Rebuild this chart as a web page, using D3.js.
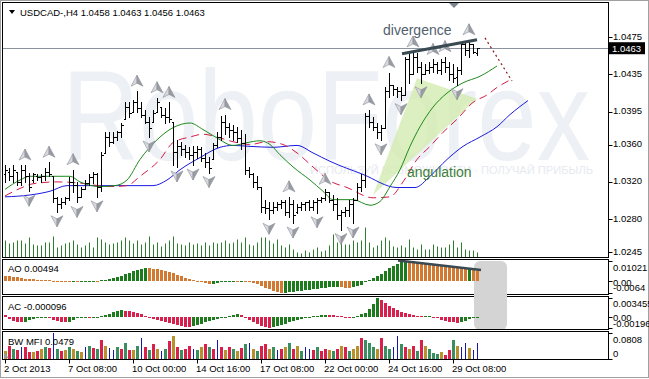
<!DOCTYPE html>
<html>
<head>
<meta charset="utf-8">
<script src="https://cdn.jsdelivr.net/npm/d3@7"></script>
<style>
  body { margin: 0; background: #fff; }
  svg { display: block; }
  text { font-family: "Liberation Sans", Arial, sans-serif; }
</style>
</head>
<body>
<div id="chart"></div>
<script>
// ---- data (USDCAD H4, 2 Oct - 30 Oct 2013) ----
const opens = [
  1.0328,1.0331,1.0326,1.0331,1.0320,1.0333,1.0326,1.0322,1.0326,1.0325,
  1.0326,1.0331,1.0326,1.0303,1.0296,1.0299,1.0303,1.0320,1.0317,1.0304,
  1.0312,1.0319,1.0325,1.0328,1.0315,1.0351,1.0368,1.0363,1.0368,1.0373,
  1.0387,1.0400,1.0395,1.0406,1.0399,1.0392,1.0384,1.0384,1.0395,1.0400,
  1.0392,1.0389,1.0384,1.0352,1.0358,1.0355,1.0352,1.0349,1.0352,1.0355,
  1.0346,1.0341,1.0344,1.0360,1.0368,1.0384,1.0379,1.0376,1.0373,1.0367,
  1.0362,1.0333,1.0328,1.0320,1.0314,1.0293,1.0292,1.0290,1.0293,1.0296,
  1.0298,1.0288,1.0296,1.0288,1.0293,1.0296,1.0298,1.0293,1.0298,1.0301,
  1.0303,1.0309,1.0301,1.0296,1.0285,1.0288,1.0290,1.0296,1.0301,1.0315,
  1.0322,1.0390,1.0384,1.0379,1.0373,1.0378,1.0417,1.0424,1.0419,1.0417,
  1.0413,1.0451,1.0435,1.0454,1.0443,1.0435,1.0440,1.0443,1.0446,1.0440,
  1.0448,1.0443,1.0435,1.0432,1.0440,1.0467,1.0461,1.0467,1.0458];
const highs = [
  1.0338,1.0335,1.0338,1.0331,1.0338,1.0338,1.0330,1.0330,1.0328,1.0328,
  1.0335,1.0341,1.0326,1.0304,1.0303,1.0304,1.0325,1.0333,1.0320,1.0315,
  1.0322,1.0328,1.0331,1.0330,1.0352,1.0373,1.0373,1.0373,1.0374,1.0383,
  1.0405,1.0405,1.0408,1.0417,1.0405,1.0397,1.0389,1.0397,1.0410,1.0400,
  1.0399,1.0405,1.0384,1.0365,1.0363,1.0360,1.0357,1.0358,1.0358,1.0357,
  1.0351,1.0347,1.0362,1.0373,1.0390,1.0392,1.0383,1.0381,1.0379,1.0376,
  1.0371,1.0336,1.0330,1.0326,1.0314,1.0301,1.0299,1.0298,1.0298,1.0301,
  1.0301,1.0304,1.0301,1.0296,1.0298,1.0299,1.0301,1.0301,1.0303,1.0304,
  1.0312,1.0309,1.0306,1.0303,1.0290,1.0293,1.0301,1.0303,1.0319,1.0328,
  1.0394,1.0397,1.0389,1.0383,1.0381,1.0422,1.0437,1.0424,1.0422,1.0421,
  1.0454,1.0458,1.0459,1.0458,1.0448,1.0446,1.0448,1.0451,1.0448,1.0451,
  1.0454,1.0448,1.0446,1.0443,1.0469,1.0470,1.0472,1.0467,1.0463];
const lows = [
  1.0320,1.0322,1.0320,1.0317,1.0317,1.0320,1.0310,1.0320,1.0322,1.0320,
  1.0322,1.0326,1.0298,1.0288,1.0292,1.0296,1.0301,1.0309,1.0298,1.0304,
  1.0312,1.0317,1.0319,1.0304,1.0310,1.0351,1.0358,1.0362,1.0365,1.0368,
  1.0387,1.0389,1.0395,1.0395,1.0389,1.0383,1.0368,1.0384,1.0395,1.0389,
  1.0383,1.0384,1.0338,1.0336,1.0349,1.0347,1.0344,1.0338,1.0346,1.0342,
  1.0336,1.0330,1.0344,1.0357,1.0365,1.0371,1.0368,1.0365,1.0363,1.0355,
  1.0328,1.0325,1.0315,1.0312,1.0288,1.0287,1.0280,1.0287,1.0290,1.0292,
  1.0285,1.0282,1.0276,1.0287,1.0290,1.0290,1.0290,1.0290,1.0287,1.0298,
  1.0301,1.0298,1.0290,1.0280,1.0269,1.0283,1.0283,1.0276,1.0301,1.0310,
  1.0315,1.0379,1.0376,1.0367,1.0365,1.0378,1.0411,1.0413,1.0411,1.0408,
  1.0413,1.0426,1.0435,1.0438,1.0426,1.0435,1.0437,1.0438,1.0437,1.0435,
  1.0438,1.0429,1.0427,1.0424,1.0435,1.0456,1.0454,1.0458,1.0456];
const closes = [
  1.0333,1.0326,1.0333,1.0320,1.0333,1.0326,1.0315,1.0328,1.0325,1.0326,
  1.0331,1.0328,1.0303,1.0296,1.0299,1.0303,1.0320,1.0317,1.0304,1.0312,
  1.0319,1.0325,1.0328,1.0315,1.0349,1.0368,1.0363,1.0368,1.0373,1.0381,
  1.0400,1.0394,1.0406,1.0399,1.0392,1.0384,1.0378,1.0394,1.0405,1.0392,
  1.0389,1.0387,1.0352,1.0358,1.0355,1.0352,1.0349,1.0352,1.0355,1.0346,
  1.0341,1.0335,1.0360,1.0368,1.0384,1.0379,1.0376,1.0373,1.0367,1.0362,
  1.0333,1.0328,1.0320,1.0314,1.0293,1.0292,1.0290,1.0293,1.0296,1.0298,
  1.0288,1.0296,1.0285,1.0293,1.0296,1.0298,1.0293,1.0298,1.0301,1.0303,
  1.0309,1.0301,1.0296,1.0285,1.0288,1.0290,1.0296,1.0301,1.0315,1.0322,
  1.0390,1.0384,1.0379,1.0373,1.0378,1.0417,1.0424,1.0419,1.0417,1.0413,
  1.0451,1.0435,1.0454,1.0443,1.0435,1.0440,1.0443,1.0446,1.0440,1.0448,
  1.0443,1.0435,1.0431,1.0440,1.0467,1.0461,1.0467,1.0459,1.0463];

const volumes = [
  1700,1400,1500,1700,1700,1400,2000,1300,1200,1200,
  1500,1500,2100,1000,1200,1400,1500,1700,1300,1000,
  1200,1500,1000,2000,1800,1500,1300,1400,1500,1700,
  2000,1700,1400,1700,1300,1500,2100,1300,1500,1100,
  1400,1700,2100,1400,1300,1200,1500,1300,1400,1200,
  1500,1200,1500,1400,1500,1700,1400,1500,1800,1500,
  2000,1300,1200,1500,2000,2000,1700,1400,1800,1200,
  1000,1300,800,500,400,700,500,800,1000,600,
  700,1200,2300,1500,1700,1300,1300,1700,1500,1700,
  3000,1500,1000,1200,1700,2000,1700,1100,1000,1200,
  1000,1800,1000,800,1300,800,800,1300,1100,1000,
  1000,1300,1700,1000,1500,800,700,700,500];

// Alligator lines: [bar index, price] (they run past the last bar)
const jawPts = [[0,1.0304],[6.25,1.0306],[11.25,1.0310],[15.5,1.0316],[20.5,1.0316],[26.25,1.0316],[37,1.0316],
  [40.5,1.0322],[43.75,1.0333],[48.75,1.0346],[53.75,1.0357],[57,1.0359],[61.25,1.0358],[67,1.0357],[73,1.0359],
  [77,1.0351],[81.25,1.0342],[89.5,1.0328],[98,1.0314],[102.5,1.0314],[106.25,1.0326],[110.5,1.0344],
  [114.5,1.0358],[118.75,1.0368],[123,1.0379],[126.25,1.0392],[130.75,1.0407]];
const teethPts = [[0,1.0305],[3.75,1.0313],[7,1.0318],[13,1.0320],[18,1.0319],[26.25,1.0315],[30.5,1.0316],
  [33.75,1.0326],[38.75,1.0344],[42,1.0362],[46.25,1.0368],[49.5,1.0371],[53,1.0368],[57,1.0363],[61.25,1.0360],
  [65.5,1.0363],[69.5,1.0360],[73,1.0351],[77,1.0336],[81.25,1.0321],[85.5,1.0314],[92,1.0303],[96.25,1.0304],
  [99.5,1.0320],[103,1.0344],[106.25,1.0358],[109.5,1.0373],[113,1.0387],[117,1.0405],[120.5,1.0413],
  [123,1.0421],[126.25,1.0429]];
const lipsPts = [[0,1.0312],[3.75,1.0322],[6.25,1.0326],[11.25,1.0326],[16.25,1.0326],[18.75,1.0320],[23.75,1.0315],
  [27.5,1.0316],[30.5,1.0322],[33.75,1.0344],[38,1.0365],[42,1.0378],[46.25,1.0383],[49.5,1.0376],[53,1.0367],
  [57,1.0359],[60.5,1.0362],[63.75,1.0364],[66.25,1.0360],[68.75,1.0349],[72,1.0336],[76.25,1.0322],[79.5,1.0310],
  [82,1.0301],[87,1.0301],[91.25,1.0295],[93.75,1.0299],[96.25,1.0315],[98.75,1.0333],[101.25,1.0358],
  [103.75,1.0379],[107,1.0400],[110.5,1.0415],[114.5,1.0426],[118.75,1.0433],[123,1.0444]];

const upFractals = [5,11,17,33,38,41,55,71,80,91,96,102,107,110,116];
const downFractals = [6,13,18,23,36,43,47,51,66,72,78,84,87,94,99,104,113];

const aoValues = [
  0.00260,0.00234,0.00208,0.00166,0.00135,0.00104,0.00083,0.00062,0.00052,0.00042,
  0.00031,0.00021,0.00003,-0.00026,-0.00042,-0.00052,-0.00062,-0.00052,-0.00062,-0.00052,
  -0.00042,-0.00026,-0.00016,-0.00026,0.00010,0.00042,0.00093,0.00145,0.00197,0.00260,
  0.00337,0.00415,0.00493,0.00571,0.00623,0.00649,0.00638,0.00623,0.00597,0.00545,
  0.00493,0.00441,0.00389,0.00311,0.00234,0.00156,0.00078,0.00026,-0.00026,-0.00078,
  -0.00130,-0.00182,-0.00166,-0.00130,-0.00093,-0.00062,-0.00042,-0.00026,-0.00031,-0.00026,
  -0.00042,-0.00078,-0.00130,-0.00197,-0.00285,-0.00363,-0.00441,-0.00519,-0.00597,-0.00638,
  -0.00623,-0.00597,-0.00571,-0.00545,-0.00519,-0.00493,-0.00467,-0.00441,-0.00415,-0.00389,
  -0.00363,-0.00348,-0.00337,-0.00322,-0.00337,-0.00363,-0.00374,-0.00337,-0.00285,-0.00208,
  -0.00078,0.00052,0.00156,0.00260,0.00363,0.00519,0.00649,0.00753,0.00856,0.00960,
  0.01021,0.01012,0.00996,0.00976,0.00950,0.00924,0.00898,0.00872,0.00846,0.00820,
  0.00794,0.00768,0.00742,0.00701,0.00664,0.00623,0.00633,0.00545,0.00494];

const acValues = [
  0.00035,-0.00035,-0.00070,-0.00087,-0.00096,-0.00087,-0.00052,-0.00035,-0.00026,-0.00017,
  -0.00015,-0.00026,-0.00052,-0.00070,-0.00087,-0.00096,-0.00087,-0.00052,-0.00026,-0.00017,
  -0.00009,-0.00014,-0.00009,-0.00005,0.00009,0.00035,0.00061,0.00087,0.00114,0.00122,
  0.00114,0.00105,0.00087,0.00070,0.00044,0.00017,-0.00017,-0.00044,-0.00061,-0.00079,
  -0.00096,-0.00114,-0.00131,-0.00148,-0.00166,-0.00178,-0.00183,-0.00166,-0.00148,-0.00122,
  -0.00096,-0.00079,-0.00061,-0.00044,-0.00026,-0.00009,0.00009,0.00026,0.00044,0.00026,
  -0.00017,-0.00052,-0.00087,-0.00122,-0.00157,-0.00183,-0.00192,-0.00183,-0.00166,-0.00148,
  -0.00122,-0.00096,-0.00070,-0.00052,-0.00035,-0.00017,-0.00009,0.00009,0.00017,0.00026,
  0.00035,0.00031,0.00026,0.00017,0.00009,-0.00009,-0.00026,-0.00017,0.00009,0.00044,
  0.00070,0.00140,0.00227,0.003455,0.00297,0.00245,0.00192,0.00157,0.00122,0.00087,
  0.00070,0.00061,0.00026,0.00017,0.00009,0.00014,0.00017,0.00003,-0.00026,-0.00052,
  -0.00070,-0.00087,-0.00096,-0.00105,-0.00087,-0.00070,-0.00044,-0.00026,-0.000096];

const mfiValues = [
  0.025,0.040,0.030,0.028,0.035,0.038,0.022,0.020,0.025,0.030,
  0.035,0.032,0.080,0.030,0.025,0.028,0.038,0.030,0.025,0.020,
  0.035,0.040,0.032,0.030,0.060,0.040,0.032,0.028,0.035,0.030,
  0.050,0.028,0.026,0.040,0.065,0.035,0.028,0.045,0.030,0.025,
  0.030,0.055,0.070,0.035,0.028,0.030,0.040,0.030,0.028,0.035,
  0.045,0.035,0.030,0.060,0.038,0.028,0.035,0.030,0.025,0.032,
  0.045,0.050,0.030,0.025,0.040,0.045,0.030,0.035,0.028,0.030,
  0.035,0.050,0.030,0.040,0.025,0.035,0.030,0.028,0.035,0.025,
  0.030,0.028,0.025,0.030,0.040,0.035,0.025,0.030,0.040,0.065,
  0.060,0.050,0.035,0.030,0.065,0.040,0.030,0.035,0.070,0.045,
  0.035,0.030,0.040,0.025,0.060,0.040,0.030,0.018,0.015,0.020,
  0.012,0.028,0.060,0.040,0.035,0.050,0.032,0.028,0.0479];
// g = green, b = brown, r = pink/red, u = blue
const mfiCodes = ("brgrurrbrb" + "grugrbgbgb" + "ugrgrbuugr" + "grbgurgrbu" + "grbrgrrugb" +
  "rgrurbrgbr" + "gubgrrbgur" + "bgrbguurgr" + "rbgrbrgbbr" + "gggbrgguug" + "rbrgrbgggb" + "rrgbuubuu").split("");

const priceTicks = [1.0475, 1.0435, 1.0395, 1.0360, 1.0320, 1.0280, 1.0245];
const timeTickIdx = [0, 16, 32, 48, 64, 80, 96, 112];
const timeTickLabels = ["2 Oct 2013", "7 Oct 08:00", "10 Oct 00:00", "14 Oct 16:00",
                        "17 Oct 08:00", "22 Oct 00:00", "24 Oct 16:00", "29 Oct 08:00"];
const lastQuote = {open: 1.0458, high: 1.0463, low: 1.0456, close: 1.0463};

// annotations
const divergencePrice = [[99.25, 1.0457], [118, 1.0472]];
const divergenceAO = [[98.25, 0.01048], [119, 0.00555]];
const angulation = [[92, 1.0306], [103, 1.0431], [118, 1.0409]];
const dottedLine = [[120, 1.0474], [126.75, 1.0428]];

// ---- layout ----
const W = 649, H = 379;
const xL = 2.5, xR = 608.5;
const main = {y0: 2.5, y1: 257.5}, aoP = {y0: 259.5, y1: 294.5},
      acP = {y0: 296.5, y1: 329.5}, mfiP = {y0: 331.5, y1: 359.5};

const n = closes.length;
const x = d3.scaleLinear().domain([0, n - 1]).range([5, 5 + 4 * (n - 1)]);
const y = d3.scaleLinear().domain([1.0245, 1.0475]).range([252, 37]);
const yVol = d3.scaleLinear().domain([0, 3300]).range([257.5, 224.5]);
const yAO = d3.scaleLinear().domain([-0.0064, 0.01021]).range([293, 261]);
const yAC = d3.scaleLinear().domain([-0.00196, 0.003455]).range([328, 297.5]);
const yMFI = d3.scaleLinear().domain([0, 0.0808]).range([358.5, 333]);

const svg = d3.select("#chart").append("svg").attr("width", W).attr("height", H);
const defs = svg.append("defs");

function clip(id, p) {
  defs.append("clipPath").attr("id", id).append("rect")
    .attr("x", xL + 0.5).attr("y", p.y0 + 0.5)
    .attr("width", xR - xL - 1).attr("height", p.y1 - p.y0 - 1);
}
clip("cMain", main); clip("cAO", aoP); clip("cAC", acP); clip("cMFI", mfiP);

// outer frame
svg.append("rect").attr("x", 0.5).attr("y", 0.5).attr("width", W - 1).attr("height", H - 2)
  .attr("fill", "#fff").attr("stroke", "#a0a0a0");

const gMain = svg.append("g").attr("clip-path", "url(#cMain)");

// watermark
gMain.append("text").attr("x", 62).attr("y", 160).attr("font-size", 128)
  .attr("textLength", 528).attr("lengthAdjust", "spacingAndGlyphs")
  .attr("fill", "#edf0f4").text("RoboForex");
gMain.append("text").attr("x", 310).attr("y", 174).attr("font-size", 11)
  .attr("textLength", 283).attr("lengthAdjust", "spacingAndGlyphs")
  .attr("fill", "#e6eaef").text("ИСПОЛЬЗУЙ ВОЗМОЖНОСТИ · ПОЛУЧАЙ ПРИБЫЛЬ");

// angulation wedge
gMain.append("polygon")
  .attr("points", angulation.map(d => [x(d[0]), y(d[1])].join(",")).join(" "))
  .attr("fill", "#d3ebb0").attr("opacity", 0.8);

// volumes
gMain.append("g").selectAll("line").data(volumes).join("line")
  .attr("x1", (d, i) => Math.round(x(i)) + 0.5).attr("x2", (d, i) => Math.round(x(i)) + 0.5)
  .attr("y1", yVol(0)).attr("y2", d => yVol(d))
  .attr("stroke", "#2f7d2f").attr("stroke-width", 1);

// current price line
gMain.append("line").attr("x1", xL).attr("x2", xR)
  .attr("y1", Math.round(y(lastQuote.close)) + 0.5).attr("y2", Math.round(y(lastQuote.close)) + 0.5)
  .attr("stroke", "#8a939e");

// alligator
const line = d3.line().x(d => x(d[0])).y(d => y(d[1])).curve(d3.curveMonotoneX);
gMain.append("path").attr("d", line(jawPts)).attr("fill", "none").attr("stroke", "#1a1ae0").attr("stroke-width", 1);
gMain.append("path").attr("d", line(teethPts)).attr("fill", "none").attr("stroke", "#d41c46")
  .attr("stroke-width", 1).attr("stroke-dasharray", "8,5");
gMain.append("path").attr("d", line(lipsPts)).attr("fill", "none").attr("stroke", "#1e8a1e").attr("stroke-width", 1);

// OHLC bars
const ry = v => Math.round(y(v)) + 0.5;
gMain.append("g").selectAll("path").data(d3.range(n)).join("path")
  .attr("d", i => {
    const px = Math.round(x(i)) + 0.5;
    return `M${px},${ry(highs[i]) - 0.5}V${ry(lows[i]) + 0.5}` +
           `M${px - 2},${ry(opens[i])}H${px}` +
           `M${px},${ry(closes[i])}H${px + 2}`;
  })
  .attr("stroke", "#000").attr("fill", "none").attr("shape-rendering", "crispEdges");

// fractal arrows
function arrow(g, cx, cy, dir) {
  const t = cy - 6 * dir, w = cy + 5 * dir, m = cy + 2 * dir;
  g.append("polygon").attr("points", `${cx},${t} ${cx - 6},${w} ${cx},${m}`)
    .attr("fill", "#d8d9de").attr("stroke", "#8d9098").attr("stroke-width", 0.6);
  g.append("polygon").attr("points", `${cx},${t} ${cx},${m} ${cx + 6},${w}`)
    .attr("fill", "#9a9ca4").attr("stroke", "#8d9098").attr("stroke-width", 0.6);
}
const gFr = gMain.append("g");
upFractals.forEach(i => arrow(gFr, x(i), y(highs[i]) - 10, 1));
downFractals.forEach(i => arrow(gFr, x(i), y(lows[i]) + 9, -1));

// divergence
gMain.append("line")
  .attr("x1", x(divergencePrice[0][0])).attr("y1", y(divergencePrice[0][1]))
  .attr("x2", x(divergencePrice[1][0])).attr("y2", y(divergencePrice[1][1]))
  .attr("stroke", "#3a4a52").attr("stroke-width", 3);
gMain.append("text").attr("x", 383).attr("y", 35).attr("font-size", 14)
  .attr("fill", "#52606d").text("divergence");
gMain.append("text").attr("x", 407).attr("y", 177).attr("font-size", 14)
  .attr("fill", "#3f7f3a").text("angulation");

// dotted projection
gMain.append("line")
  .attr("x1", x(dottedLine[0][0])).attr("y1", y(dottedLine[0][1]))
  .attr("x2", x(dottedLine[1][0])).attr("y2", y(dottedLine[1][1]))
  .attr("stroke", "#8b1c1c").attr("stroke-width", 1.2).attr("stroke-dasharray", "2,3");

// chart shift marker
svg.append("polygon").attr("points", "449,3 459,3 454,8").attr("fill", "#7d8590");

// header
svg.append("polygon").attr("points", "9,10 15,10 12,14").attr("fill", "#000");
svg.append("text").attr("x", 20).attr("y", 16).attr("font-size", 9.5)
  .text(`USDCAD-,H4  ${lastQuote.open.toFixed(4)} ${lastQuote.high.toFixed(4)} ${lastQuote.low.toFixed(4)} ${lastQuote.close.toFixed(4)}`);

// gray box behind AO / AC end
svg.append("rect").attr("x", 474).attr("y", 261).attr("width", 33).attr("height", 69)
  .attr("rx", 6).attr("fill", "#d4d4d4");

// AO
const gAO = svg.append("g").attr("clip-path", "url(#cAO)");
gAO.selectAll("rect").data(aoValues).join("rect")
  .attr("x", (d, i) => Math.round(x(i)) - 1).attr("width", 3)
  .attr("y", d => Math.min(yAO(0), yAO(d)))
  .attr("height", d => Math.max(1, Math.abs(yAO(d) - yAO(0))))
  .attr("fill", (d, i) => (i > 0 && d > aoValues[i - 1]) ? "#1d7a1d" : "#d27a32")
  .attr("shape-rendering", "crispEdges");
gAO.append("line")
  .attr("x1", x(divergenceAO[0][0])).attr("y1", yAO(divergenceAO[0][1]))
  .attr("x2", x(divergenceAO[1][0])).attr("y2", yAO(divergenceAO[1][1]))
  .attr("stroke", "#3a4a52").attr("stroke-width", 2.5);

// AC
const gAC = svg.append("g").attr("clip-path", "url(#cAC)");
gAC.selectAll("rect").data(acValues).join("rect")
  .attr("x", (d, i) => Math.round(x(i)) - 1).attr("width", 3)
  .attr("y", d => Math.min(yAC(0), yAC(d)))
  .attr("height", d => Math.max(1, Math.abs(yAC(d) - yAC(0))))
  .attr("fill", (d, i) => (i > 0 && d > acValues[i - 1]) ? "#1d7a1d" : "#d6214f")
  .attr("shape-rendering", "crispEdges");

// BW MFI
const mfiColor = {g: "#3a8f60", b: "#b8902c", r: "#d9204b", u: "#1717a8"};
const gMFI = svg.append("g").attr("clip-path", "url(#cMFI)");
gMFI.selectAll("rect").data(mfiValues).join("rect")
  .attr("x", (d, i) => Math.round(x(i)) - (mfiCodes[i] === "u" ? 0 : 1))
  .attr("width", (d, i) => mfiCodes[i] === "u" ? 1.2 : 3)
  .attr("y", d => yMFI(d)).attr("height", d => yMFI(0) - yMFI(d))
  .attr("fill", (d, i) => mfiColor[mfiCodes[i]] || mfiColor.b)
  .attr("shape-rendering", "crispEdges");
svg.append("polygon").attr("points", "4,358 9,358 4,353").attr("fill", "#9a9a9a");

// panel frames
[main, aoP, acP, mfiP].forEach(p => {
  svg.append("rect").attr("x", xL).attr("y", p.y0).attr("width", xR - xL).attr("height", p.y1 - p.y0)
    .attr("fill", "none").attr("stroke", "#000");
});
// re-draw the gray box over the frames between AO and AC
svg.append("rect").attr("x", 474).attr("y", 293).attr("width", 33).attr("height", 5).attr("fill", "#d4d4d4");

// panel labels
svg.append("text").attr("x", 8).attr("y", 272).attr("font-size", 9.5).text(`AO ${aoValues[n - 1].toFixed(5)}`);
svg.append("text").attr("x", 8).attr("y", 310).attr("font-size", 9.5).text(`AC ${acValues[n - 1].toFixed(6)}`);
svg.append("text").attr("x", 8).attr("y", 345).attr("font-size", 9.5).text(`BW MFI ${mfiValues[n - 1].toFixed(4)}`);

// right price axis
const gAx = svg.append("g").attr("font-size", 9.5);
priceTicks.forEach(v => {
  gAx.append("line").attr("x1", xR).attr("x2", xR + 4).attr("y1", ry(v)).attr("y2", ry(v)).attr("stroke", "#000");
  gAx.append("text").attr("x", 613).attr("y", y(v) - 1).attr("dominant-baseline", "central").text(v.toFixed(4));
});
gAx.append("rect").attr("x", 609).attr("y", y(lastQuote.close) - 6).attr("width", 36).attr("height", 12).attr("fill", "#000");
gAx.append("text").attr("x", 612).attr("y", y(lastQuote.close)).attr("dominant-baseline", "central")
  .attr("fill", "#fff").text(lastQuote.close.toFixed(4));

function subAxis(scale, items) {
  items.forEach(([v, label, dy]) => {
    gAx.append("line").attr("x1", xR).attr("x2", xR + 4)
      .attr("y1", Math.round(scale(v)) + 0.5).attr("y2", Math.round(scale(v)) + 0.5).attr("stroke", "#000");
    gAx.append("text").attr("x", 613).attr("y", scale(v) + dy).attr("dominant-baseline", "central").text(label);
  });
}
subAxis(yAO, [[0.01021, "0.01021", 6], [0, "0.00", 1.5], [-0.0064, "-0.0064", -5.5]]);
subAxis(yAC, [[0.003455, "0.003455", 6], [0, "0.00", 1], [-0.00196, "-0.00196", -5]]);
subAxis(yMFI, [[0.0808, "0.0808", 6], [0, "0", -5.5]]);

// time axis
const gT = svg.append("g").attr("font-size", 9.5);
timeTickIdx.forEach((idx, k) => {
  const px = Math.round(x(idx)) + 0.5;
  gT.append("line").attr("x1", px).attr("x2", px).attr("y1", mfiP.y1).attr("y2", mfiP.y1 + 4).attr("stroke", "#000");
  gT.append("text").attr("x", x(idx) - 1).attr("y", 372).text(timeTickLabels[k]);
});
</script>
</body>
</html>
